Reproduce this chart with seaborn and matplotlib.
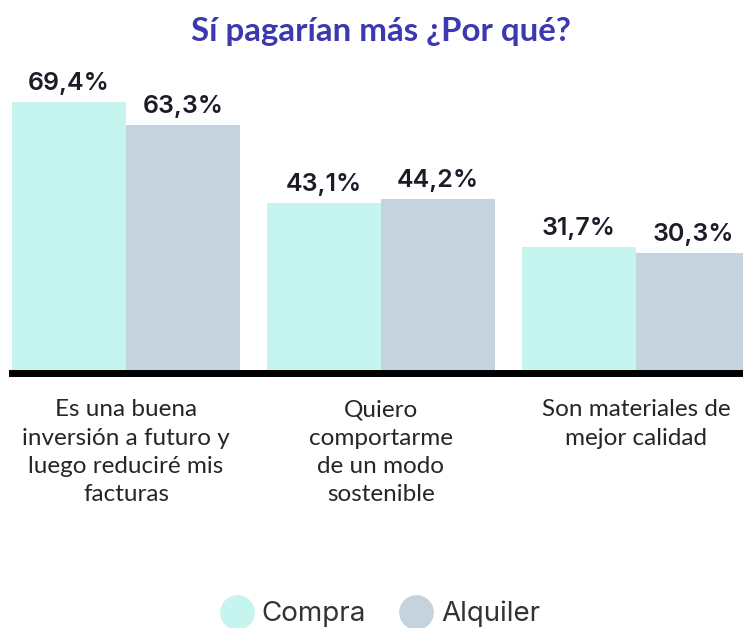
import matplotlib
matplotlib.use("Agg")
import matplotlib.pyplot as plt
import seaborn as sns
import pandas as pd
from matplotlib.lines import Line2D

categories = ["Es una buena\ninversión a futuro y\nluego reduciré mis\nfacturas",
              "Quiero\ncomportarme\nde un modo\nsostenible",
              "Son materiales de\nmejor calidad"]
series = ["Compra", "Alquiler"]
compra = [69.4, 43.1, 31.7]
alquiler = [63.3, 44.2, 30.3]
colors = ["#c6f4ef", "#c5d3de"]

df = pd.DataFrame({
    "cat": categories * 2,
    "serie": [series[0]] * 3 + [series[1]] * 3,
    "val": compra + alquiler,
})

sns.set_theme(style="white")
plt.rcParams["font.family"] = ["Lato", "DejaVu Sans"]

W, H = 743, 628
fig = plt.figure(figsize=(W / 100, H / 100), dpi=100)
ax_bottom_px = 373
ax_top_px = 70
ax = fig.add_axes([12 / W, 1 - ax_bottom_px / H, 1 - 12 / W, (ax_bottom_px - ax_top_px) / H])

sns.barplot(data=df, x="cat", y="val", hue="serie", hue_order=series,
            palette=colors, width=0.894, gap=0, saturation=1, ax=ax,
            legend=False, linewidth=0, edgecolor="none")

pxu = 3.86
ax.set_ylim(-3.5 / pxu, -3.5 / pxu + (ax_bottom_px - ax_top_px) / pxu)
ax.set_xlim(-0.447, 2.42)
ax.set_xlabel("")
ax.set_ylabel("")
ax.set_yticks([])
for s in ["top", "left", "right"]:
    ax.spines[s].set_visible(False)
ax.spines["bottom"].set_linewidth(5)
ax.spines["bottom"].set_color("black")
ax.spines["bottom"].set_zorder(5)
ax.tick_params(axis="x", length=0, pad=19)
for t in ax.get_xticklabels():
    t.set_fontsize(17.5)
    t.set_color("#262626")
    t.set_linespacing(1.43)
    t.set_verticalalignment("top")

for cont in ax.containers:
    labels = [f"{b.get_height():.1f}%".replace(".", ",") for b in cont]
    ax.bar_label(cont, labels=labels, padding=5, fontsize=18, color="#1c1c28",
                 family=["Inter", "DejaVu Sans"], fontweight="semibold")

fig.text(381 / W, 1 - 31 / H, "Sí pagarían más ¿Por qué?", ha="center", va="center",
         fontsize=23.8, fontweight="bold", color="#3b38b0")

handles = [Line2D([], [], marker="o", linestyle="none", markersize=25,
                  markerfacecolor=c, markeredgecolor="none") for c in colors]
fig.legend(handles, series, loc="center", bbox_to_anchor=(380 / W, 1 - 614 / H),
           ncol=2, frameon=False, prop={"family": ["Inter", "DejaVu Sans"], "size": 20},
           labelcolor="#333333", handletextpad=0.3, columnspacing=1.2, handlelength=1.2)

fig.savefig("out.png", dpi=100)
